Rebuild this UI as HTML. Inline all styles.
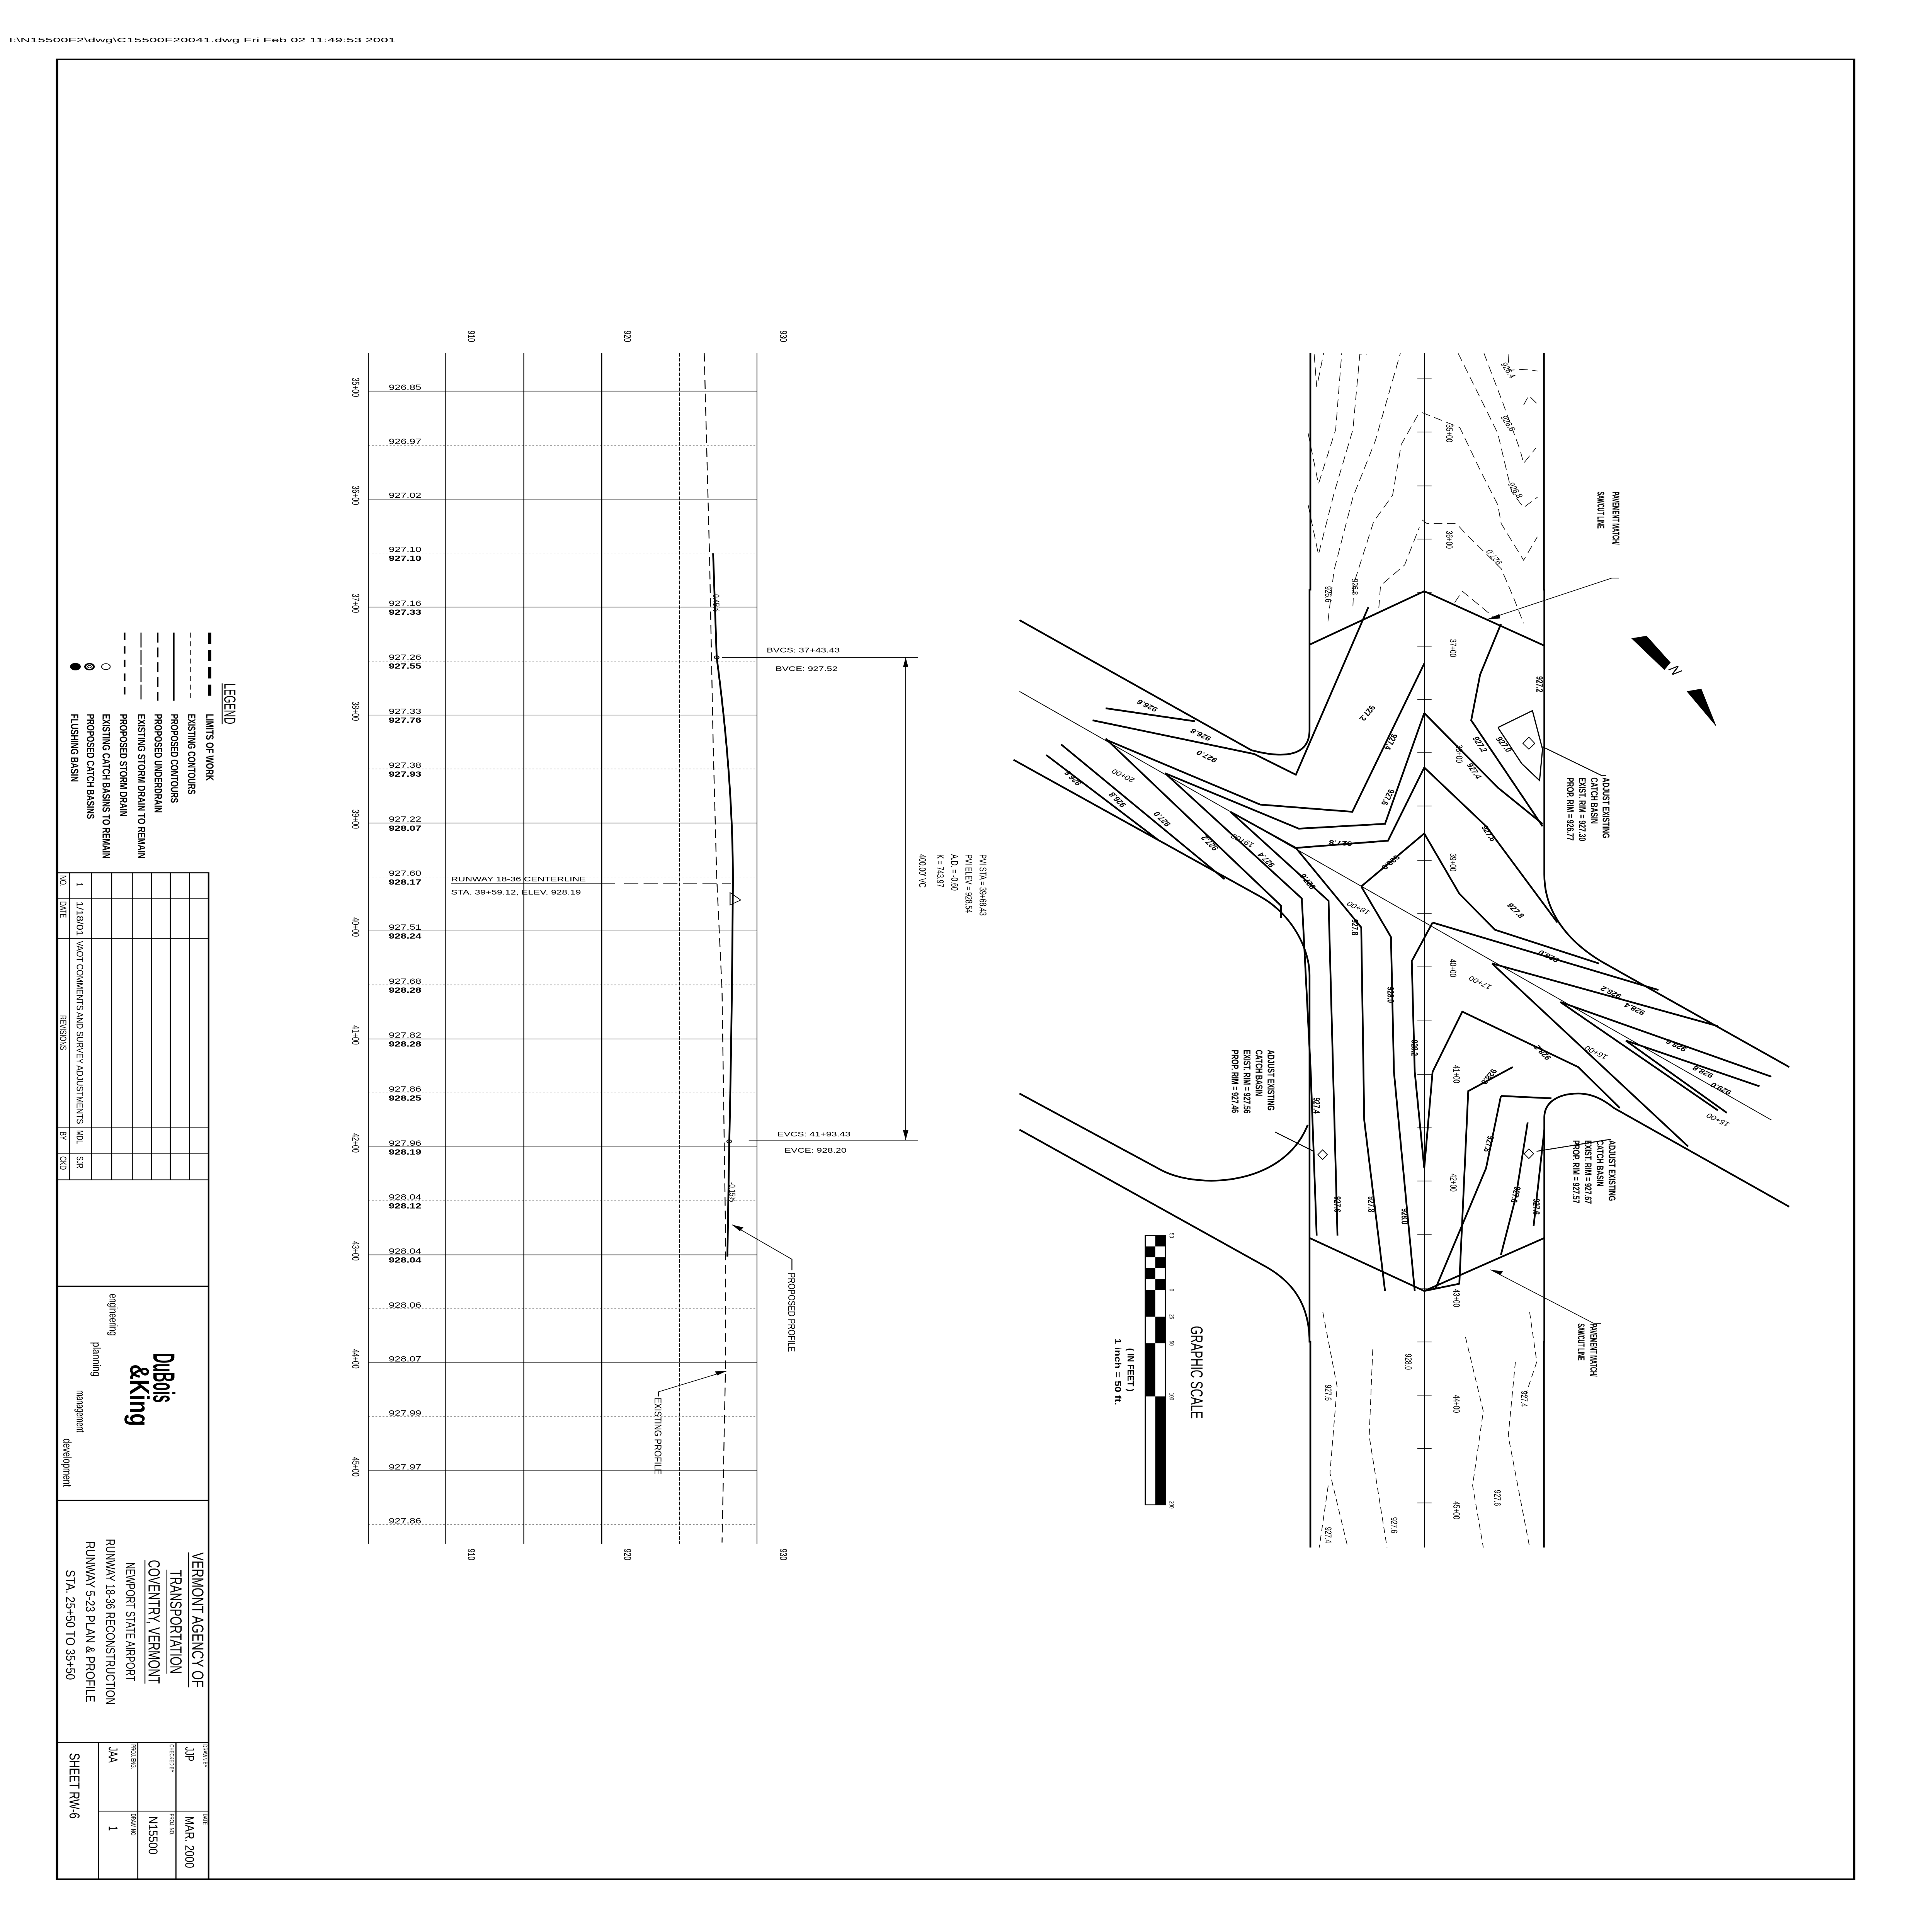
<!DOCTYPE html>
<html><head><meta charset="utf-8"><style>
html,body{margin:0;padding:0;background:#fff;width:100%;height:100%;overflow:hidden}
svg{display:block;position:absolute;left:0;top:0;width:100vw;height:100vh}
text{font-family:"Liberation Sans",sans-serif;fill:#000}
.ns *{vector-effect:non-scaling-stroke}
</style></head><body>
<svg viewBox="0 0 1082 1560.6" preserveAspectRatio="none" xmlns="http://www.w3.org/2000/svg">
<rect x="0" y="0" width="1082" height="1560.6" fill="#fff"/>
<text x="5" y="34" font-family="Liberation Mono, monospace" font-size="5" textLength="217" lengthAdjust="spacingAndGlyphs">I:\N15500F2\dwg\C15500F20041.dwg  Fri Feb 02 11:49:53 2001</text>
<rect x="32" y="48" width="1008" height="1470" fill="none" stroke="#000" stroke-width="1.3"/>

<g stroke="#000" stroke-width="0.6" fill="none">
<rect x="32" y="705" width="85" height="813" stroke-width="0.9"/>
<line x1="32" y1="953" x2="117" y2="953"/><line x1="32" y1="1039" x2="117" y2="1039" stroke-width="0.9"/>
<line x1="32" y1="1212" x2="117" y2="1212" stroke-width="0.9"/><line x1="32" y1="1407.5" x2="117" y2="1407.5" stroke-width="0.9"/>
<line x1="39" y1="705" x2="39" y2="953"/><line x1="51.3" y1="705" x2="51.3" y2="953"/><line x1="62.6" y1="705" x2="62.6" y2="953"/>
<line x1="74.2" y1="705" x2="74.2" y2="953"/><line x1="84.9" y1="705" x2="84.9" y2="953"/><line x1="95.6" y1="705" x2="95.6" y2="953"/><line x1="106.3" y1="705" x2="106.3" y2="953"/>
<line x1="32" y1="726" x2="117" y2="726"/><line x1="32" y1="758" x2="117" y2="758"/><line x1="32" y1="911" x2="117" y2="911"/><line x1="32" y1="932" x2="117" y2="932"/>
<line x1="55.2" y1="1407.5" x2="55.2" y2="1518"/><line x1="77.3" y1="1407.5" x2="77.3" y2="1518"/><line x1="98.7" y1="1407.5" x2="98.7" y2="1518"/>
<line x1="55.2" y1="1463" x2="117" y2="1463"/>
</g>
<g font-size="5.2">
<text transform="translate(33.6,707) rotate(90)">NO.</text>
<text transform="translate(33.6,728) rotate(90)">DATE</text>
<text transform="translate(33.6,820) rotate(90)">REVISIONS</text>
<text transform="translate(33.6,914) rotate(90)">BY</text>
<text transform="translate(33.6,934) rotate(90)">CKD</text>
<text transform="translate(43,713) rotate(90)">1</text>
<text transform="translate(43,728) rotate(90)" textLength="28" lengthAdjust="spacingAndGlyphs">1/18/01</text>
<text transform="translate(43,760) rotate(90)" textLength="148" lengthAdjust="spacingAndGlyphs">VAOT COMMENTS AND SURVEY ADJUSTMENTS</text>
<text transform="translate(43,913) rotate(90)">MDL</text>
<text transform="translate(43,934) rotate(90)">SJR</text>
</g>
<g>
<text transform="translate(86,1093) rotate(90)" font-family="Liberation Serif,serif" font-weight="bold" font-size="17" textLength="40" lengthAdjust="spacingAndGlyphs">DuBois</text>
<text transform="translate(73,1102) rotate(90)" font-family="Liberation Serif,serif" font-weight="bold" font-size="15" textLength="50" lengthAdjust="spacingAndGlyphs">&amp;King</text>
<text transform="translate(61.5,1045) rotate(90)" font-family="Liberation Serif,serif" font-size="6.5" textLength="34" lengthAdjust="spacingAndGlyphs">engineering</text>
<text transform="translate(52,1084) rotate(90)" font-family="Liberation Serif,serif" font-size="6.5" textLength="28" lengthAdjust="spacingAndGlyphs">planning</text>
<text transform="translate(43,1123) rotate(90)" font-family="Liberation Serif,serif" font-size="6.5" textLength="34" lengthAdjust="spacingAndGlyphs">management</text>
<text transform="translate(35.5,1162) rotate(90)" font-family="Liberation Serif,serif" font-size="6.5" textLength="39" lengthAdjust="spacingAndGlyphs">development</text>
</g>
<g font-size="9">
<text transform="translate(107.8,1254) rotate(90)" textLength="109" lengthAdjust="spacingAndGlyphs">VERMONT AGENCY OF</text>
<text transform="translate(95.6,1268) rotate(90)" textLength="84" lengthAdjust="spacingAndGlyphs">TRANSPORTATION</text>
<text transform="translate(83.3,1260) rotate(90)" textLength="100" lengthAdjust="spacingAndGlyphs">COVENTRY, VERMONT</text>
<text transform="translate(70.8,1262) rotate(90)" font-size="7" textLength="96" lengthAdjust="spacingAndGlyphs">NEWPORT STATE AIRPORT</text>
<text transform="translate(59.5,1243) rotate(90)" font-size="7" textLength="134" lengthAdjust="spacingAndGlyphs">RUNWAY 18-36 RECONSTRUCTION</text>
<text transform="translate(48.2,1245) rotate(90)" font-size="7" textLength="130" lengthAdjust="spacingAndGlyphs">RUNWAY 5-23 PLAN &amp; PROFILE</text>
<text transform="translate(37.1,1268) rotate(90)" font-size="7" textLength="89" lengthAdjust="spacingAndGlyphs">STA. 25+50 TO 35+50</text>
</g>
<g stroke="#000" stroke-width="0.5">
<line x1="105.8" y1="1254" x2="105.8" y2="1363"/><line x1="93.6" y1="1268" x2="93.6" y2="1352"/><line x1="81.3" y1="1260" x2="81.3" y2="1360"/>
</g>
<g font-size="3.5">
<text transform="translate(113.8,1409) rotate(90)">DRAWN BY</text>
<text transform="translate(113.8,1465) rotate(90)">DATE</text>
<text transform="translate(95.2,1409) rotate(90)">CHECKED BY</text>
<text transform="translate(95.2,1465) rotate(90)">PROJ. NO.</text>
<text transform="translate(73.6,1409) rotate(90)">PROJ. ENG.</text>
<text transform="translate(73.6,1465) rotate(90)">DRAW. NO.</text>
</g>
<g font-size="7">
<text transform="translate(103.9,1411) rotate(90)">JJP</text>
<text transform="translate(103.9,1467) rotate(90)" textLength="42" lengthAdjust="spacingAndGlyphs">MAR. 2000</text>
<text transform="translate(83.4,1467) rotate(90)" textLength="31" lengthAdjust="spacingAndGlyphs">N15500</text>
<text transform="translate(61,1411) rotate(90)">JAA</text>
<text transform="translate(61,1475) rotate(90)">1</text>
<text transform="translate(39,1416) rotate(90)" font-size="8" textLength="53" lengthAdjust="spacingAndGlyphs">SHEET RW-6</text>
</g>

<g>
<text transform="translate(125.8,552) rotate(90)" font-size="9" textLength="33" lengthAdjust="spacingAndGlyphs">LEGEND</text>
<line x1="124.6" y1="552" x2="124.6" y2="585" stroke="#000" stroke-width="0.5"/>
<g font-size="6" font-weight="bold">
<text transform="translate(115.6,576.6) rotate(90)" textLength="54" lengthAdjust="spacingAndGlyphs">LIMITS OF WORK</text>
<text transform="translate(105.5,576.6) rotate(90)" textLength="65" lengthAdjust="spacingAndGlyphs">EXISTING CONTOURS</text>
<text transform="translate(95.8,576.6) rotate(90)" textLength="72" lengthAdjust="spacingAndGlyphs">PROPOSED CONTOURS</text>
<text transform="translate(86.7,576.6) rotate(90)" textLength="80" lengthAdjust="spacingAndGlyphs">PROPOSED UNDERDRAIN</text>
<text transform="translate(77.4,576.6) rotate(90)" textLength="117" lengthAdjust="spacingAndGlyphs">EXISTING STORM DRAIN TO REMAIN</text>
<text transform="translate(67.2,576.6) rotate(90)" textLength="83" lengthAdjust="spacingAndGlyphs">PROPOSED STORM DRAIN</text>
<text transform="translate(57.5,576.6) rotate(90)" textLength="117" lengthAdjust="spacingAndGlyphs">EXISTING CATCH BASINS TO REMAIN</text>
<text transform="translate(48.8,576.6) rotate(90)" textLength="85" lengthAdjust="spacingAndGlyphs">PROPOSED CATCH BASINS</text>
<text transform="translate(39.8,576.6) rotate(90)" textLength="55" lengthAdjust="spacingAndGlyphs">FLUSHING BASIN</text>
</g>
<g stroke="#000" fill="none">
<line x1="117.6" y1="511" x2="117.6" y2="566" stroke-width="1.8" stroke-dasharray="9,5"/>
<line x1="106.8" y1="511" x2="106.8" y2="566" stroke-width="0.3" stroke-dasharray="4,3"/>
<line x1="97.5" y1="511" x2="97.5" y2="566" stroke-width="0.8"/>
<line x1="88.5" y1="511" x2="88.5" y2="566" stroke-width="0.8" stroke-dasharray="8,4"/>
<line x1="79.1" y1="511" x2="79.1" y2="566" stroke-width="0.6" stroke-dasharray="12,2"/>
<line x1="69.9" y1="511" x2="69.9" y2="566" stroke-width="0.9" stroke-dasharray="6,5"/>
<circle cx="59.4" cy="538.5" r="2.4" stroke-width="0.5"/>
<circle cx="50.2" cy="538.5" r="2.4" stroke-width="1.1"/><circle cx="50.2" cy="538.5" r="1" stroke-width="0.5"/>
<circle cx="42.3" cy="538.5" r="2.5" fill="#000"/>
</g>
</g>

<g stroke="#000" fill="none">
<g stroke-width="0.45">
<line x1="206.6" y1="285" x2="206.6" y2="1247"/>
<line x1="250" y1="285" x2="250" y2="1247"/>
<line x1="293.8" y1="285" x2="293.8" y2="1247"/>
<line x1="337.5" y1="285" x2="337.5" y2="1247" stroke-width="0.6"/>
<line x1="381.2" y1="285" x2="381.2" y2="1247" stroke-dasharray="3,1"/>
<line x1="424.6" y1="285" x2="424.6" y2="1247"/>
</g>
<g stroke-width="0.45">
<line x1="206.6" y1="316" x2="424.6" y2="316"/><line x1="206.6" y1="403.2" x2="424.6" y2="403.2"/>
<line x1="206.6" y1="490.4" x2="424.6" y2="490.4"/><line x1="206.6" y1="577.6" x2="424.6" y2="577.6"/>
<line x1="206.6" y1="664.8" x2="424.6" y2="664.8"/><line x1="206.6" y1="752" x2="424.6" y2="752"/>
<line x1="206.6" y1="839.2" x2="424.6" y2="839.2"/><line x1="206.6" y1="926.4" x2="424.6" y2="926.4"/>
<line x1="206.6" y1="1013.6" x2="424.6" y2="1013.6"/><line x1="206.6" y1="1100.8" x2="424.6" y2="1100.8"/>
<line x1="206.6" y1="1188" x2="424.6" y2="1188"/>
</g>
<g stroke-width="0.3" stroke-dasharray="1,1">
<line x1="206.6" y1="359.6" x2="424.6" y2="359.6"/><line x1="206.6" y1="446.8" x2="424.6" y2="446.8"/>
<line x1="206.6" y1="534" x2="424.6" y2="534"/><line x1="206.6" y1="621.2" x2="424.6" y2="621.2"/>
<line x1="206.6" y1="708.4" x2="424.6" y2="708.4"/><line x1="206.6" y1="795.6" x2="424.6" y2="795.6"/>
<line x1="206.6" y1="882.8" x2="424.6" y2="882.8"/><line x1="206.6" y1="970" x2="424.6" y2="970"/>
<line x1="206.6" y1="1057.2" x2="424.6" y2="1057.2"/><line x1="206.6" y1="1144.4" x2="424.6" y2="1144.4"/>
<line x1="206.6" y1="1231.6" x2="424.6" y2="1231.6"/>
</g>
</g>
<g font-size="5.6">
<text transform="translate(197.6,305) rotate(90)">35+00</text>
<text transform="translate(197.6,392.2) rotate(90)">36+00</text>
<text transform="translate(197.6,479.4) rotate(90)">37+00</text>
<text transform="translate(197.6,566.6) rotate(90)">38+00</text>
<text transform="translate(197.6,653.8) rotate(90)">39+00</text>
<text transform="translate(197.6,741) rotate(90)">40+00</text>
<text transform="translate(197.6,828.2) rotate(90)">41+00</text>
<text transform="translate(197.6,915.4) rotate(90)">42+00</text>
<text transform="translate(197.6,1002.6) rotate(90)">43+00</text>
<text transform="translate(197.6,1089.8) rotate(90)">44+00</text>
<text transform="translate(197.6,1177) rotate(90)">45+00</text>
<text transform="translate(262.5,267) rotate(90)">910</text>
<text transform="translate(350,267) rotate(90)">920</text>
<text transform="translate(437.5,267) rotate(90)">930</text>
<text transform="translate(262.5,1251) rotate(90)">910</text>
<text transform="translate(350,1251) rotate(90)">920</text>
<text transform="translate(437.5,1251) rotate(90)">930</text>
</g>
<g font-size="6">
<text x="218" y="315">926.85</text>
<text x="218" y="358.6">926.97</text>
<text x="218" y="402.2">927.02</text>
<text x="218" y="445.8">927.10</text><text x="218" y="453" font-weight="bold">927.10</text>
<text x="218" y="489.4">927.16</text><text x="218" y="496.6" font-weight="bold">927.33</text>
<text x="218" y="533">927.26</text><text x="218" y="540.2" font-weight="bold">927.55</text>
<text x="218" y="576.6">927.33</text><text x="218" y="583.8" font-weight="bold">927.76</text>
<text x="218" y="620.2">927.38</text><text x="218" y="627.4" font-weight="bold">927.93</text>
<text x="218" y="663.8">927.22</text><text x="218" y="671" font-weight="bold">928.07</text>
<text x="218" y="707.4">927.60</text><text x="218" y="714.6" font-weight="bold">928.17</text>
<text x="218" y="751">927.51</text><text x="218" y="758.2" font-weight="bold">928.24</text>
<text x="218" y="794.6">927.68</text><text x="218" y="801.8" font-weight="bold">928.28</text>
<text x="218" y="838.2">927.82</text><text x="218" y="845.4" font-weight="bold">928.28</text>
<text x="218" y="881.8">927.86</text><text x="218" y="889" font-weight="bold">928.25</text>
<text x="218" y="925.4">927.96</text><text x="218" y="932.6" font-weight="bold">928.19</text>
<text x="218" y="969">928.04</text><text x="218" y="976.2" font-weight="bold">928.12</text>
<text x="218" y="1012.6">928.04</text><text x="218" y="1019.8" font-weight="bold">928.04</text>
<text x="218" y="1056.2">928.06</text>
<text x="218" y="1099.8">928.07</text>
<text x="218" y="1143.4">927.99</text>
<text x="218" y="1187">927.97</text>
<text x="218" y="1230.6">927.86</text>
</g>
<g fill="none" stroke="#000">
<polyline points="395,285 398,450 400,600 402,708 405,800 407,1000 407,1100 405,1246" stroke-width="0.5" stroke-dasharray="7,4"/>
<path d="M400,447 L402,531 Q412,640 411,727 Q410.5,830 409,927 L408,1015" stroke-width="1"/>
<polygon points="409.5,721 415.5,727 409.5,731" stroke-width="0.5"/>
<circle cx="402" cy="531" r="1.3" stroke-width="0.5"/>
<circle cx="409" cy="922" r="1.3" stroke-width="0.5"/>
<line x1="405" y1="531" x2="515" y2="531" stroke-width="0.5"/>
<line x1="420" y1="921" x2="515" y2="921" stroke-width="0.5"/>
<line x1="508" y1="531" x2="508" y2="921" stroke-width="0.5"/>
<polyline points="410.6,989.3 444.2,1017.2 444.2,1026" stroke-width="0.5"/>
<polyline points="407.5,1107.5 369.3,1124.3 369.3,1128" stroke-width="0.5"/>
<line x1="253" y1="713.5" x2="345" y2="713.5" stroke-width="0.4"/>
<line x1="350" y1="713.5" x2="410" y2="713.5" stroke-width="0.4" stroke-dasharray="8,3"/>
</g>
<polygon points="508,531 506.5,539 509.5,539" fill="#000"/>
<polygon points="508,921 506.5,913 509.5,913" fill="#000"/>
<polygon points="410.6,989.3 417,991.5 415,994.5" fill="#000"/>
<polygon points="407.5,1107.5 401,1107.8 402.3,1111" fill="#000"/>
<g font-size="5.5">
<text x="253" y="712">RUNWAY  18-36  CENTERLINE</text>
<text x="253" y="722.5">STA.  39+59.12,  ELEV.  928.19</text>
<text x="430" y="527">BVCS:  37+43.43</text>
<text x="435" y="542">BVCE:  927.52</text>
<text x="436" y="918">EVCS:  41+93.43</text>
<text x="440" y="931">EVCE:  928.20</text>
<text transform="translate(400,480) rotate(90)" font-size="5">0.45%</text>
<text transform="translate(409,955) rotate(90)" font-size="5">-0.15%</text>
<text transform="translate(442.2,1028) rotate(90)" font-size="5.5" textLength="64" lengthAdjust="spacingAndGlyphs">PROPOSED PROFILE</text>
<text transform="translate(367.2,1129) rotate(90)" font-size="5.5" textLength="62" lengthAdjust="spacingAndGlyphs">EXISTING PROFILE</text>
<text transform="translate(549.5,690) rotate(90)">PVI STA = 39+68.43</text>
<text transform="translate(541.5,690) rotate(90)">PVI ELEV = 928.54</text>
<text transform="translate(533.5,690) rotate(90)">A.D. = -0.60</text>
<text transform="translate(525.5,690) rotate(90)">K = 743.97</text>
<text transform="translate(515.5,690) rotate(90)">400.00' VC</text>
</g>

<g stroke="#000" fill="none">
<line x1="735" y1="285" x2="735" y2="477" stroke-width="1"/>
<line x1="866" y1="285" x2="866" y2="477" stroke-width="1"/>
<line x1="735" y1="1083" x2="735" y2="1250" stroke-width="1"/>
<line x1="866" y1="1083" x2="866" y2="1250" stroke-width="1"/>
<line x1="799" y1="285" x2="799" y2="1250" stroke-width="0.45"/>
<g stroke-width="0.45">
<line x1="795" y1="306" x2="803" y2="306"/><line x1="795" y1="349" x2="803" y2="349"/><line x1="795" y1="392.5" x2="803" y2="392.5"/>
<line x1="795" y1="435.5" x2="803" y2="435.5"/><line x1="795" y1="478.5" x2="803" y2="478.5"/><line x1="795" y1="522" x2="803" y2="522"/>
<line x1="795" y1="565" x2="803" y2="565"/><line x1="795" y1="608" x2="803" y2="608"/><line x1="795" y1="651" x2="803" y2="651"/>
<line x1="795" y1="695" x2="803" y2="695"/><line x1="795" y1="738" x2="803" y2="738"/><line x1="795" y1="781" x2="803" y2="781"/>
<line x1="795" y1="824" x2="803" y2="824"/><line x1="795" y1="868" x2="803" y2="868"/><line x1="795" y1="911" x2="803" y2="911"/>
<line x1="795" y1="954" x2="803" y2="954"/><line x1="795" y1="997" x2="803" y2="997"/><line x1="795" y1="1041" x2="803" y2="1041"/>
<line x1="795" y1="1084" x2="803" y2="1084"/><line x1="795" y1="1127" x2="803" y2="1127"/><line x1="795" y1="1170" x2="803" y2="1170"/>
<line x1="795" y1="1214" x2="803" y2="1214"/>
</g>
<g stroke-width="0.35" stroke-dasharray="5,3">
<polyline points="742,1060 750,1120 746,1190 756,1250"/>
<polyline points="770,1090 768,1160 778,1250"/>
<polyline points="822,1080 832,1140 826,1200 832,1250"/>
<polyline points="850,1100 846,1160 858,1250"/>
<polyline points="858,1060 862,1100 855,1130"/>
<polyline points="745,1200 740,1250"/>
</g>
</g>
<g class="ns" transform="translate(726,270.9) scale(0.0967,0.152)" fill="none" stroke="#000" stroke-width="1.6" stroke-dasharray="22,12">
<polyline points="115,100 130,275 170,95"/>
<polyline points="80,520 140,790 240,500 275,95"/>
<polyline points="80,900 140,1165 230,840 340,500 380,100 420,100"/>
<polyline points="195,1520 230,1250 340,860 470,560 615,95"/>
<polyline points="340,1440 345,1320 460,990 570,850 620,580 725,410"/>
<polyline points="490,1450 500,1330 640,1220 725,1020"/>
<polyline points="950,95 980,150 1180,520 1260,830 1330,915 1410,860"/>
<polyline points="1100,95 1210,360 1310,610 1330,680 1400,600"/>
<polyline points="1240,100 1245,185 1350,180 1410,190"/>
<polyline points="740,410 960,490 1080,720 1180,900 1200,1000 1330,1195 1410,1070"/>
<polyline points="740,980 770,1000 940,1000 990,1050 1200,1240 1270,1390 1330,1530"/>
<polyline points="930,1420 975,1360 1160,1500"/>
<polyline points="1330,370 1360,320 1410,365"/>
</g>
<g class="ns" transform="translate(563.5,476.8) scale(0.3334,0.389)" fill="none" stroke="#000" stroke-width="4.5">
<path d="M513,-2 L513,290 C513,345 470,350 415,332 L25,62"/>
<path d="M15,352 L430,636 C480,670 513,740 513,800 L513,1562"/>
<path d="M25,1045 L265,1205 C330,1245 470,1235 510,1110"/>
<path d="M25,1120 L440,1405 C490,1440 513,1490 513,1562"/>
<path d="M908,-2 L908,590 C908,680 960,740 1010,775 L1320,990"/>
<path d="M908,1562 L908,1095 C908,1060 935,1045 965,1045 C990,1045 1010,1060 1025,1075 L1320,1280"/>
<polyline points="513,113 706,2 908,115"/>
<polyline points="513,1345 706,1455 908,1345"/>
<polyline points="25,210 1290,1100" stroke-width="2"/>
<polyline points="170,245 320,272"/>
<polyline points="148,270 420,340 490,383 612,35"/>
<polyline points="170,310 430,445 585,460 706,152"/>
<polyline points="270,380 495,495 640,485 706,255"/>
<polyline points="380,460 490,535 645,520 706,368"/>
<polyline points="600,615 706,505"/>
<polyline points="70,342 260,520"/>
<polyline points="95,320 370,600"/>
<polyline points="170,308 465,655 465,680"/>
<polyline points="270,380 500,640 515,1000 525,1340"/>
<polyline points="380,460 545,645 560,1340"/>
<polyline points="490,535 600,700 605,1100 640,1455"/>
<polyline points="600,615 650,720 655,1000 690,1455"/>
<polyline points="720,690 685,770 690,1000 706,1200 720,1000 770,875 965,990 1035,1075"/>
<polyline points="835,70 800,175 785,270 905,490"/>
<polyline points="706,255 830,410 905,485"/>
<polyline points="706,368 810,490 930,690"/>
<polyline points="706,505 765,630 825,705 1000,775"/>
<polyline points="720,690 1100,830"/>
<polyline points="820,775 1200,905"/>
<polyline points="820,775 1150,1155"/>
<polyline points="935,855 1290,1010"/>
<polyline points="935,855 1200,1080"/>
<polyline points="1045,935 1270,1030"/>
<polyline points="1045,935 1215,1085"/>
<polyline points="855,990 780,1040 765,1440 706,1455"/>
<polyline points="835,1050 920,1055"/>
<polyline points="835,1050 810,1200 725,1450"/>
<polyline points="880,1105 860,1260 835,1380"/>
<polyline points="908,1120 890,1320"/>
<polyline points="830,285 888,250 905,330 900,395 870,360 830,285" stroke-width="3"/>
<polygon points="872,318 882,305 892,318 882,330" stroke-width="2"/>
<polygon points="527,1172 535,1162 543,1172 535,1182" stroke-width="2"/>
<polygon points="874,1170 882,1160 890,1170 882,1180" stroke-width="2"/>
<polyline points="905,325 1005,385 1012,385" stroke-width="2.5"/>
<polyline points="455,1125 520,1165" stroke-width="2.5"/>
<polyline points="1020,1140 895,1165" stroke-width="2.5"/>
<polygon points="1055,100 1080,95 1120,150 1110,165" fill="#000" stroke-width="1"/>
<polygon points="1148,210 1172,205 1197,282" fill="#000" stroke-width="1"/>
</g>
<g fill="none" stroke="#000" stroke-width="0.5">
<polyline points="908,467 904,467 834,500.4"/>
<polyline points="898,1069 894,1069 836,1025.6"/>
</g>
<polygon points="834,500.4 841,496 841.5,499.5" fill="#000"/>
<polygon points="836,1025.6 843,1027 841.5,1030" fill="#000"/>

<g font-size="5.5" font-weight="bold">
<text transform="translate(904.5,397) rotate(90)" textLength="43" lengthAdjust="spacingAndGlyphs">PAVEMENT MATCH/</text>
<text transform="translate(896,397) rotate(90)" textLength="30" lengthAdjust="spacingAndGlyphs">SAWCUT LINE</text>
<text transform="translate(892,1069) rotate(90)" textLength="43" lengthAdjust="spacingAndGlyphs">PAVEMENT MATCH/</text>
<text transform="translate(885,1069) rotate(90)" textLength="30" lengthAdjust="spacingAndGlyphs">SAWCUT LINE</text>
<text transform="translate(899,628) rotate(90)">ADJUST EXISTING</text>
<text transform="translate(892.3,628) rotate(90)">CATCH BASIN</text>
<text transform="translate(885.6,628) rotate(90)">EXIST. RIM = 927.30</text>
<text transform="translate(878.9,628) rotate(90)">PROP. RIM = 926.77</text>
<text transform="translate(711,848) rotate(90)">ADJUST EXISTING</text>
<text transform="translate(704.3,848) rotate(90)">CATCH BASIN</text>
<text transform="translate(697.6,848) rotate(90)">EXIST. RIM = 927.56</text>
<text transform="translate(690.9,848) rotate(90)">PROP. RIM = 927.46</text>
<text transform="translate(902.3,921) rotate(90)">ADJUST EXISTING</text>
<text transform="translate(895.6,921) rotate(90)">CATCH BASIN</text>
<text transform="translate(888.9,921) rotate(90)">EXIST. RIM = 927.67</text>
<text transform="translate(882.2,921) rotate(90)">PROP. RIM = 927.57</text>
</g>
<text transform="translate(937,543) rotate(60)" font-size="9" text-anchor="middle">N</text>
<g>
<rect x="642.4" y="998" width="11.3" height="217.5" fill="#fff" stroke="#000" stroke-width="0.6"/>
<g fill="#000">
<rect x="648" y="998" width="5.7" height="8.8"/><rect x="642.4" y="1006.8" width="5.6" height="8.8"/>
<rect x="648" y="1015.6" width="5.7" height="8.8"/><rect x="642.4" y="1024.4" width="5.6" height="8.8"/>
<rect x="648" y="1033.2" width="5.7" height="8.8"/>
<rect x="642.4" y="1042" width="5.6" height="21.6"/>
<rect x="648" y="1063.6" width="5.7" height="21.4"/>
<rect x="642.4" y="1085" width="5.6" height="43"/>
<rect x="648" y="1128" width="5.7" height="87.5"/>
</g>
<g font-size="3.6">
<text transform="translate(656,998) rotate(90)" text-anchor="middle">50</text>
<text transform="translate(656,1042) rotate(90)" text-anchor="middle">0</text>
<text transform="translate(656,1063.6) rotate(90)" text-anchor="middle">25</text>
<text transform="translate(656,1085) rotate(90)" text-anchor="middle">50</text>
<text transform="translate(656,1128) rotate(90)" text-anchor="middle">100</text>
<text transform="translate(656,1215.5) rotate(90)" text-anchor="middle">200</text>
</g>
<text transform="translate(668,1071) rotate(90)" font-family="Liberation Serif,serif" font-size="9.5" textLength="75" lengthAdjust="spacingAndGlyphs">GRAPHIC SCALE</text>
<text transform="translate(632.5,1089) rotate(90)" font-family="Liberation Serif,serif" font-weight="bold" font-size="5" textLength="35" lengthAdjust="spacingAndGlyphs">( IN FEET )</text>
<text transform="translate(625.3,1081) rotate(90)" font-family="Liberation Serif,serif" font-weight="bold" font-size="5" textLength="54" lengthAdjust="spacingAndGlyphs">1 inch = 50 ft.</text>
</g>
<g font-size="5.2" text-anchor="middle" font-weight="bold">
<g transform="translate(643.5,570) rotate(215)"><text dy="1.8">926.6</text></g>
<g transform="translate(673.5,593.5) rotate(215)"><text dy="1.8">926.8</text></g>
<g transform="translate(676.9,611) rotate(215)"><text dy="1.8">927.0</text></g>
<g transform="translate(601.8,628.5) rotate(235)"><text dy="1.8">926.6</text></g>
<g transform="translate(626.8,646) rotate(235)"><text dy="1.8">926.8</text></g>
<g transform="translate(651.8,661.6) rotate(235)"><text dy="1.8">927.0</text></g>
<g transform="translate(678.5,681) rotate(235)"><text dy="1.8">927.2</text></g>
<g transform="translate(710.2,694.6) rotate(235)"><text dy="1.8">927.4</text></g>
<g transform="translate(733.5,712) rotate(240)"><text dy="1.8">927.6</text></g>
<g transform="translate(767,576) rotate(120)"><text dy="1.8">927.2</text></g>
<g transform="translate(780.2,599.3) rotate(110)"><text dy="1.8">927.4</text></g>
<g transform="translate(778.5,644) rotate(110)"><text dy="1.8">927.6</text></g>
<g transform="translate(751.9,681) rotate(185)"><text dy="1.8">927.8</text></g>
<g transform="translate(780,696.6) rotate(130)"><text dy="1.8">928.0</text></g>
<g transform="translate(760,749) rotate(90)"><text dy="1.8">927.8</text></g>
<g transform="translate(780,803.6) rotate(90)"><text dy="1.8">928.0</text></g>
<g transform="translate(793.5,846.4) rotate(90)"><text dy="1.8">928.2</text></g>
<g transform="translate(738.5,893) rotate(90)"><text dy="1.8">927.4</text></g>
<g transform="translate(750.2,972.8) rotate(90)"><text dy="1.8">927.6</text></g>
<g transform="translate(769.2,972.8) rotate(90)"><text dy="1.8">927.8</text></g>
<g transform="translate(787.9,982.5) rotate(90)"><text dy="1.8">928.0</text></g>
<g transform="translate(830.2,601.3) rotate(65)"><text dy="1.8">927.2</text></g>
<g transform="translate(826.9,622.7) rotate(65)"><text dy="1.8">927.4</text></g>
<g transform="translate(835.2,673.2) rotate(65)"><text dy="1.8">927.6</text></g>
<g transform="translate(850.2,735.5) rotate(55)"><text dy="1.8">927.8</text></g>
<g transform="translate(843.6,601.3) rotate(60)"><text dy="1.8">927.0</text></g>
<g transform="translate(863.6,552.7) rotate(90)"><text dy="1.8">927.2</text></g>
<g transform="translate(868.6,772.4) rotate(215)"><text dy="1.8">928.0</text></g>
<g transform="translate(903.6,801.6) rotate(215)"><text dy="1.8">928.2</text></g>
<g transform="translate(916.9,815) rotate(215)"><text dy="1.8">928.4</text></g>
<g transform="translate(940.2,844.4) rotate(215)"><text dy="1.8">928.6</text></g>
<g transform="translate(955.2,865.8) rotate(215)"><text dy="1.8">928.8</text></g>
<g transform="translate(965.3,879.4) rotate(215)"><text dy="1.8">929.0</text></g>
<g transform="translate(865.2,850.2) rotate(235)"><text dy="1.8">928.2</text></g>
<g transform="translate(835.2,869.7) rotate(120)"><text dy="1.8">928.0</text></g>
<g transform="translate(835.2,924) rotate(100)"><text dy="1.8">927.8</text></g>
<g transform="translate(850.2,965) rotate(100)"><text dy="1.8">927.6</text></g>
<g transform="translate(861.9,974.7) rotate(90)"><text dy="1.8">927.6</text></g>
</g>
<g font-size="5.2" text-anchor="middle">
<g transform="translate(813,350) rotate(90)"><text dy="1.8">35+00</text></g>
<g transform="translate(813,436) rotate(90)"><text dy="1.8">36+00</text></g>
<g transform="translate(815,523.5) rotate(90)"><text dy="1.8">37+00</text></g>
<g transform="translate(818.5,609) rotate(90)"><text dy="1.8">38+00</text></g>
<g transform="translate(815,696.6) rotate(90)"><text dy="1.8">39+00</text></g>
<g transform="translate(815,782) rotate(90)"><text dy="1.8">40+00</text></g>
<g transform="translate(817,867.7) rotate(90)"><text dy="1.8">41+00</text></g>
<g transform="translate(815.2,955.3) rotate(90)"><text dy="1.8">42+00</text></g>
<g transform="translate(817,1048.6) rotate(90)"><text dy="1.8">43+00</text></g>
<g transform="translate(817,1134) rotate(90)"><text dy="1.8">44+00</text></g>
<g transform="translate(817,1220) rotate(90)"><text dy="1.8">45+00</text></g>
<g transform="translate(630,626.6) rotate(215)"><text dy="1.8">20+00</text></g>
<g transform="translate(696.9,679) rotate(215)"><text dy="1.8">19+00</text></g>
<g transform="translate(761.9,733.5) rotate(215)"><text dy="1.8">18+00</text></g>
<g transform="translate(830.2,793.8) rotate(215)"><text dy="1.8">17+00</text></g>
<g transform="translate(895.2,850.2) rotate(215)"><text dy="1.8">16+00</text></g>
<g transform="translate(963.6,904.7) rotate(215)"><text dy="1.8">15+00</text></g>
<g transform="translate(846,299) rotate(65)"><text dy="1.8">926.4</text></g>
<g transform="translate(846,342) rotate(65)"><text dy="1.8">926.6</text></g>
<g transform="translate(850,396) rotate(65)"><text dy="1.8">926.8</text></g>
<g transform="translate(838,450) rotate(240)"><text dy="1.8">927.0</text></g>
<g transform="translate(745,480) rotate(90)"><text dy="1.8">926.6</text></g>
<g transform="translate(760,474) rotate(90)"><text dy="1.8">926.8</text></g>
<g transform="translate(790,1100) rotate(90)"><text dy="1.8">928.0</text></g>
<g transform="translate(745,1125) rotate(90)"><text dy="1.8">927.6</text></g>
<g transform="translate(855,1130) rotate(90)"><text dy="1.8">927.4</text></g>
<g transform="translate(840,1210) rotate(90)"><text dy="1.8">927.6</text></g>
<g transform="translate(745,1240) rotate(90)"><text dy="1.8">927.4</text></g>
<g transform="translate(782,1232) rotate(90)"><text dy="1.8">927.6</text></g>
</g>
</svg>
</body></html>
